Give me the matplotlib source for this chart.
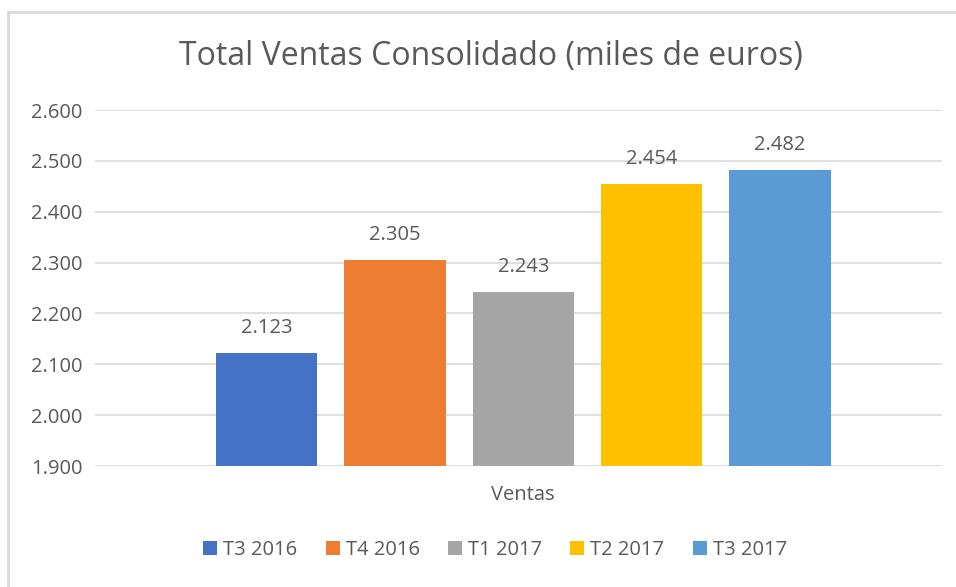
import matplotlib.pyplot as plt
from matplotlib.patches import Rectangle

# datos
series = ['T3 2016', 'T4 2016', 'T1 2017', 'T2 2017', 'T3 2017']
ventas = [2123, 2305, 2243, 2454, 2482]
colores = ['#4472C4', '#ED7D31', '#A5A5A5', '#FFC000', '#5B9BD5']
yticks = [1900, 2000, 2100, 2200, 2300, 2400, 2500, 2600]

plt.rcParams['font.family'] = ['Open Sans', 'DejaVu Sans']
gris = '#595959'

fig = plt.figure(figsize=(9.56, 5.87), dpi=100)
# borde del grafico
fig.patches.append(Rectangle((8 / 956, -0.1), 1.2, 1 - 12 / 587 + 0.1,
                             transform=fig.transFigure, fill=False,
                             edgecolor='#d9d9d9', linewidth=2))

ax = fig.add_axes([95 / 956, 1 - 466 / 587, (942 - 95) / 956, (466 - 110) / 587])

x = list(range(len(series)))
bars = ax.bar(x, ventas, width=0.79, color=colores, label=series, zorder=3)
for b, v in zip(bars, ventas):
    ax.text(b.get_x() + b.get_width() / 2, v + 49, f"{v:,}".replace(',', '.'),
            ha='center', va='center', fontsize=14.5, color=gris)

ax.set_ylim(1900, 2600)
ax.set_xlim(-1.335, 5.26)
ax.set_yticks(yticks)
ax.set_yticklabels([f"{t:,}".replace(',', '.') for t in yticks], fontsize=14.5, color=gris)
ax.set_xticks([])
ax.tick_params(axis='y', length=0, pad=9)
ax.grid(axis='y', color='#d9d9d9', linewidth=1.2, zorder=0)
for s in ax.spines.values():
    s.set_visible(False)

fig.text(491 / 956, 1 - 57 / 587, 'Total Ventas Consolidado (miles de euros)',
         ha='center', va='center', fontsize=23, color=gris)
fig.text(523 / 956, 1 - 495 / 587, 'Ventas', ha='center', va='center',
         fontsize=14.5, color=gris)

fig.legend(handles=bars, labels=series, loc='center', bbox_to_anchor=(495 / 956, 1 - 550 / 587),
           ncol=5, frameon=False, fontsize=14.5, labelcolor=gris,
           handlelength=0.7, handleheight=0.7, handletextpad=0.3, columnspacing=1.4)

fig.savefig('out.png', dpi=100)
